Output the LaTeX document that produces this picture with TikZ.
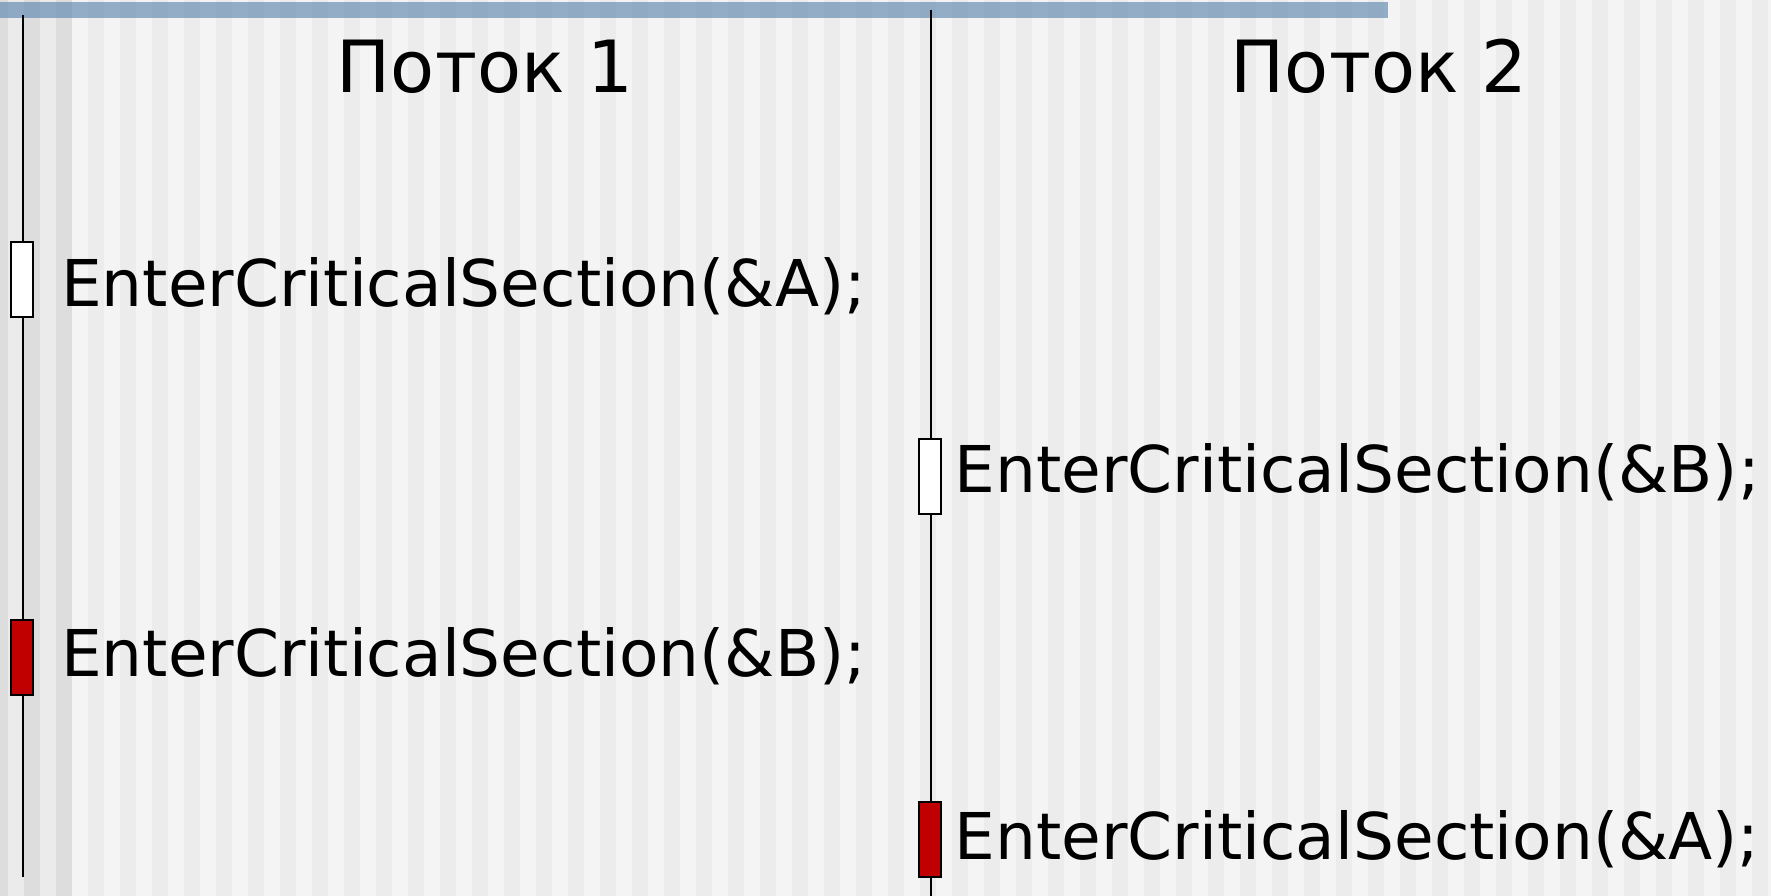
\documentclass[tikz,border=0pt]{standalone}
\usepackage{fontspec}
\setmainfont{DejaVu Sans}
\definecolor{stripeA}{HTML}{F4F4F4}
\definecolor{stripeB}{HTML}{ECECEC}
\definecolor{leftA}{HTML}{EBEBEB}
\definecolor{leftB}{HTML}{DDDDDD}
\definecolor{barblue}{HTML}{5F87B0}
\definecolor{lockred}{HTML}{C00000}
\tikzset{
  lifeline/.style={line width=2pt, black},
  lockbox/.style={draw=black, line width=2pt, minimum width=22pt, minimum height=75pt, inner sep=0pt, outer sep=0pt},
  freelock/.style={lockbox, fill=white},
  heldlock/.style={lockbox, fill=lockred},
  calltext/.style={anchor=base west, inner sep=0pt, font=\fontsize{64.5}{70}\selectfont},
  titletext/.style={anchor=base, inner sep=0pt, font=\fontsize{72}{80}\selectfont}
}
\begin{document}
\begin{tikzpicture}[x=1pt,y=-1pt]
\useasboundingbox (0,0) rectangle (1771,896);
% background stripes
\fill[stripeA] (0,0) rectangle (1771,896);
\foreach \k in {0,...,53} {
  \fill[stripeB] ({88+32*\k},0) rectangle ({104+32*\k},896);
}
\fill[leftA] (0,0) rectangle (72,896);
\fill[leftB] (0,0) rectangle (8,896);
\fill[leftB] (24,0) rectangle (40,896);
\fill[leftB] (56,0) rectangle (72,896);
% top bar
\fill[barblue, opacity=0.65] (0,2) rectangle (1388,18);
% titles
\node[titletext] (t1) at (485,92.7) {Поток 1};
\node[titletext] (t2) at (1379,92.7) {Поток 2};
% lifelines
\coordinate (l1top) at (22.5,15);
\coordinate (l1bot) at (22.5,877);
\coordinate (l2top) at (930.5,10);
\coordinate (l2bot) at (930.5,896);
\draw[lifeline] (l1top) -- (l1bot);
\draw[lifeline] (l2top) -- (l2bot);
% lock boxes
\node[freelock] (b1) at (22.2,279.5) {};
\node[freelock] (b2) at (929.5,476) {};
\node[heldlock] (b3) at (22.2,657.5) {};
\node[heldlock] (b4) at (929.5,839) {};
% calls
\node[calltext] (c1) at (61,306) {EnterCriticalSection(\&A);};
\node[calltext] (c2) at (954.5,492) {EnterCriticalSection(\&B);};
\node[calltext] (c3) at (61,676) {EnterCriticalSection(\&B);};
\node[calltext] (c4) at (954.5,859) {EnterCriticalSection(\&A);};
\end{tikzpicture}
\end{document}
